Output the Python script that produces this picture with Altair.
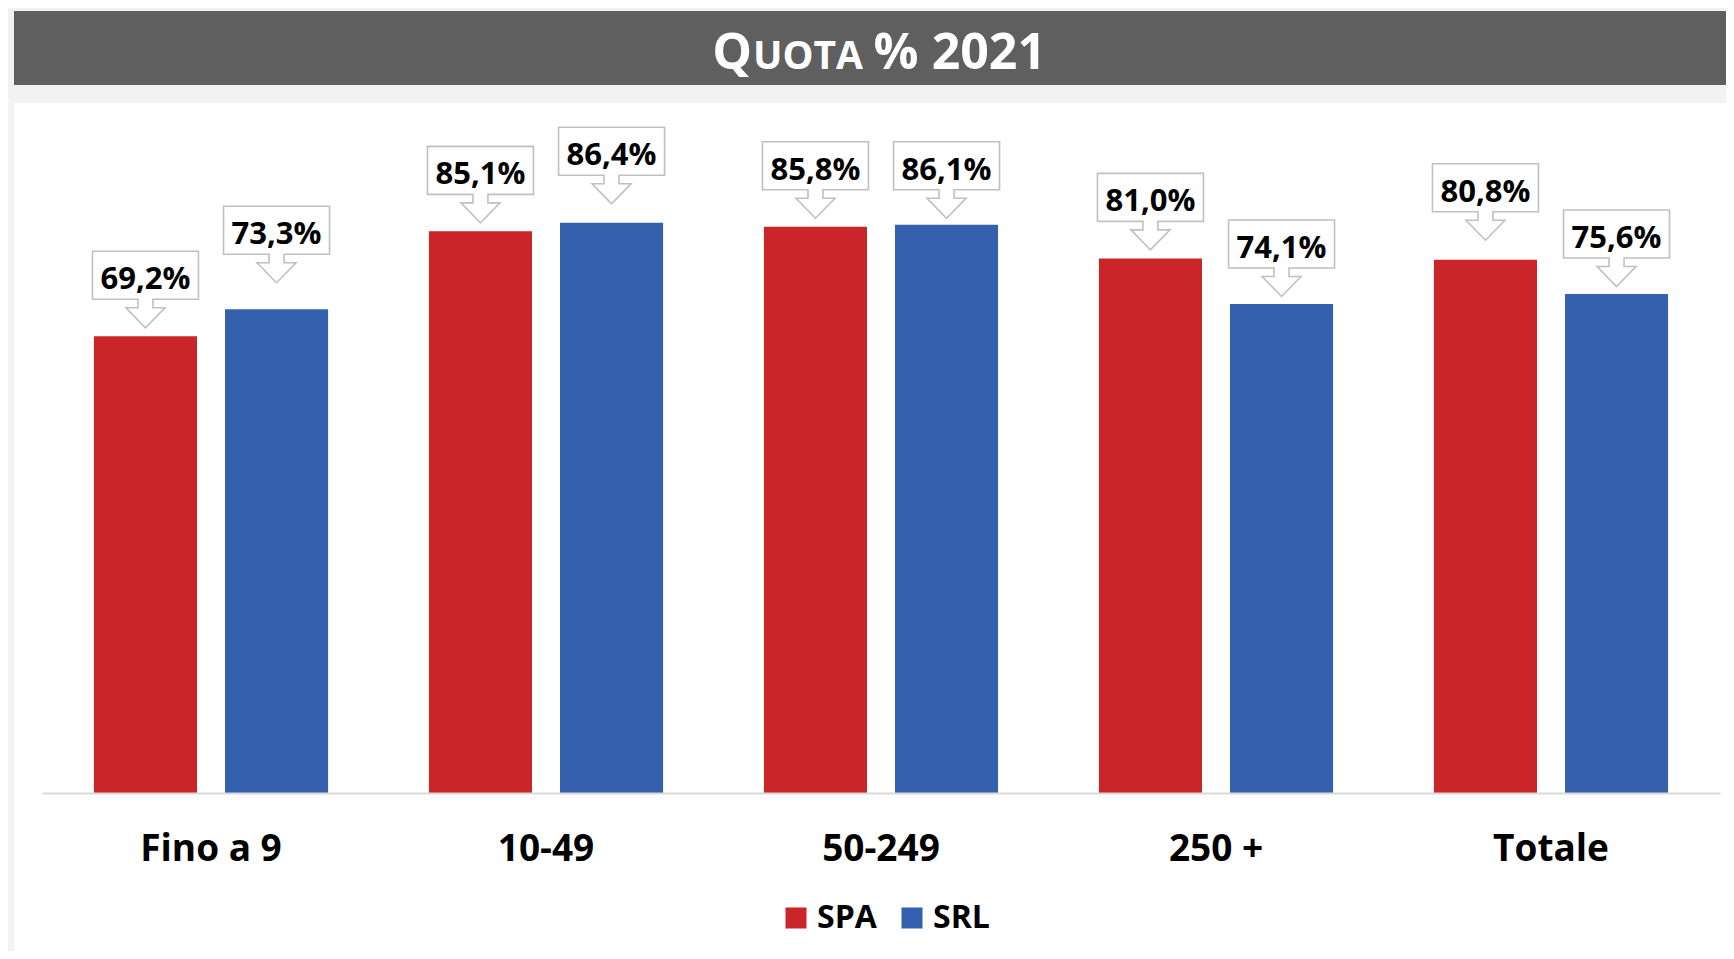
import altair as alt
import pandas as pd

categories = ["Fino a 9", "10-49", "50-249", "250 +", "Totale"]
series = ["SPA", "SRL"]
spa_values = [69.2, 85.1, 85.8, 81.0, 80.8]
srl_values = [73.3, 86.4, 86.1, 74.1, 75.6]
colors = ["#CA2528", "#3560AE"]
title_parts = ["Q", "UOTA", "% 2021"]

# extra lift (px) of each data-label callout above its bar, as placed in the original
spa_label_lift = [0, 0, 0, 0, 11]
srl_label_lift = [18, 10.5, -2, -1, -1]

PLOT_H = 660
PX_PER_UNIT = PLOT_H / 100.0

rows = []
for c, a, b, la, lb in zip(categories, spa_values, srl_values,
                           spa_label_lift, srl_label_lift):
    rows.append({"cat": c, "serie": "SPA", "val": a, "lift": la})
    rows.append({"cat": c, "serie": "SRL", "val": b, "lift": lb})
df = pd.DataFrame(rows)
df["label"] = df["val"].map(lambda v: f"{v:.1f}".replace(".", ",") + "%")

FONT = "Open Sans"

# callout (box + down arrow) as a custom symbol path; origin at the bar top
CALLOUT = ("M -1.06 -1.70 L 1.06 -1.70 L 1.06 -0.74 L 0.15 -0.74 L 0.15 -0.57 "
           "L 0.39 -0.57 L 0 -0.17 L -0.39 -0.57 L -0.15 -0.57 L -0.15 -0.74 "
           "L -1.06 -0.74 Z")

x_enc = alt.X(
    "cat:N", sort=categories,
    scale=alt.Scale(paddingInner=0.301, paddingOuter=0.155),
    axis=alt.Axis(title=None, labelAngle=0, labelFont=FONT, labelFontSize=37,
                  labelFontWeight="bold", labelColor="black", labelPadding=67,
                  labelBaseline="alphabetic", ticks=False, tickSize=0,
                  domainColor="#d9d9d9", domainWidth=2, grid=False, zindex=1),
)
xo_enc = alt.XOffset("serie:N", sort=series,
                     scale=alt.Scale(paddingInner=0.2137, paddingOuter=0))
y_scale = alt.Scale(domain=[0, 100], nice=False, zero=True)
y_enc = alt.Y("val:Q", scale=y_scale, axis=None)
y_anchor = alt.Y("anchor:Q", scale=y_scale, axis=None)

base = alt.Chart(df)

bars = base.mark_bar().encode(
    x=x_enc, xOffset=xo_enc, y=y_enc,
    color=alt.Color(
        "serie:N", sort=series,
        scale=alt.Scale(domain=series, range=colors),
        legend=alt.Legend(
            title=None, orient="none", legendX=738, legendY=769,
            direction="horizontal", symbolType="square", symbolSize=441,
            symbolStrokeWidth=0, symbolOpacity=1,
            labelFont=FONT, labelFontSize=32, labelFontWeight="bold",
            labelColor="black", labelOffset=5, columnPadding=19,
        ),
    ),
)

anchored = base.transform_calculate(
    anchor=f"datum.val + datum.lift / {PX_PER_UNIT}")

callouts = anchored.mark_point(
    shape=CALLOUT, size=10000, filled=True, fill="white", stroke="#c0c0c0",
    strokeWidth=1.6, opacity=1, fillOpacity=1,
).encode(x=x_enc, xOffset=xo_enc, y=y_anchor)

labels = anchored.mark_text(
    dy=-47, baseline="alphabetic", align="center", font=FONT, fontSize=31,
    fontWeight="bold", color="black",
).encode(x=x_enc, xOffset=xo_enc, y=y_anchor, text="label:N")

one = alt.Data(values=[{"k": 1}])

white_panel = alt.Chart(one).mark_rect(color="white").encode(
    x=alt.value(-28), x2=alt.value(1700), y=alt.value(-30), y2=alt.value(830))
title_bar = alt.Chart(one).mark_rect(color="#5f5f5f").encode(
    x=alt.value(-28), x2=alt.value(1700), y=alt.value(-122), y2=alt.value(-48))

t_q = alt.Chart(one).mark_text(
    text=title_parts[0], font=FONT, fontSize=50, fontWeight="bold", color="white",
    align="right", baseline="alphabetic").encode(x=alt.value(710), y=alt.value(-64))
t_uota = alt.Chart(one).mark_text(
    text=title_parts[1], font=FONT, fontSize=39, fontWeight="bold", color="white",
    align="left", baseline="alphabetic").encode(x=alt.value(711), y=alt.value(-64))
t_rest = alt.Chart(one).mark_text(
    text=title_parts[2], font=FONT, fontSize=50, fontWeight="bold", color="white",
    align="right", baseline="alphabetic").encode(x=alt.value(1004), y=alt.value(-64))

chart = alt.layer(
    white_panel, title_bar, t_q, t_uota, t_rest, bars, callouts, labels
).properties(
    width=1678, height=PLOT_H, background="#f2f2f2",
    padding={"left": 34, "top": 125, "right": 6, "bottom": 158},
    autosize=alt.AutoSizeParams(type="none"),
).configure_view(stroke=None)

chart.save("out.html", embed_options={"renderer": "svg", "actions": False})
